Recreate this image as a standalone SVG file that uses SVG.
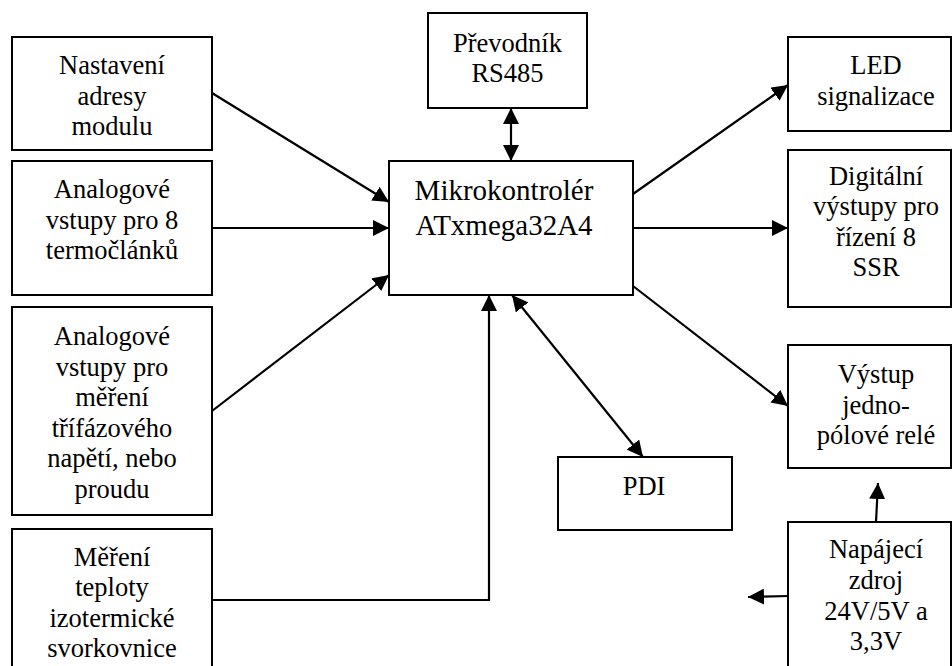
<svg xmlns="http://www.w3.org/2000/svg" width="952" height="666" viewBox="0 0 952 666">
<style>
rect{fill:#fff;stroke:#000;stroke-width:2}
text{font-family:'Liberation Serif','Times New Roman',serif;font-size:26.5px;fill:#000;text-anchor:middle}
.big{font-size:29px}
.c line,.c path{stroke:#000;stroke-width:2.2;fill:none}
</style>
<defs>
<marker id="ah" markerUnits="userSpaceOnUse" markerWidth="17" markerHeight="16" refX="16" refY="8" orient="auto-start-reverse" viewBox="0 0 17 16">
<path d="M0,0 L16,8 L0,16 z" fill="#000"/>
</marker>
</defs>
<rect x="0" y="0" width="952" height="666" style="stroke:none"/>
<g class="c" id="connectors">
<line x1="212" y1="93" x2="389" y2="202" marker-end="url(#ah)"/>
<line x1="212" y1="228" x2="389" y2="228" marker-end="url(#ah)"/>
<line x1="212" y1="411" x2="389" y2="275" marker-end="url(#ah)"/>
<path d="M212,600 H489 V295" marker-end="url(#ah)"/>
<line x1="511" y1="108" x2="511" y2="161" marker-start="url(#ah)" marker-end="url(#ah)"/>
<line x1="512" y1="295" x2="643" y2="457" marker-start="url(#ah)" marker-end="url(#ah)"/>
<line x1="633" y1="194" x2="788" y2="85" marker-end="url(#ah)"/>
<line x1="633" y1="228" x2="788" y2="228" marker-end="url(#ah)"/>
<line x1="633" y1="286" x2="788" y2="406" marker-end="url(#ah)"/>
<line x1="876" y1="522" x2="878" y2="483" marker-end="url(#ah)"/>
<line x1="789" y1="596" x2="748" y2="597" marker-end="url(#ah)"/>
</g>
<g id="n-nastaveni">
<rect x="12" y="37" width="200" height="113"/>
<text x="112" y="74">Nastavení</text>
<text x="112" y="104.5">adresy</text>
<text x="112" y="135">modulu</text>
</g>
<g id="n-analog8">
<rect x="12" y="161" width="200" height="134"/>
<text x="112" y="198">Analogové</text>
<text x="112" y="228.5">vstupy pro 8</text>
<text x="112" y="259">termočlánků</text>
</g>
<g id="n-analog3f">
<rect x="12" y="307" width="200" height="208"/>
<text x="112" y="345">Analogové</text>
<text x="112" y="375.5">vstupy pro</text>
<text x="112" y="406">měření</text>
<text x="112" y="436.5">třífázového</text>
<text x="112" y="467">napětí, nebo</text>
<text x="112" y="497.5">proudu</text>
</g>
<g id="n-mereni">
<rect x="12" y="529" width="200" height="160"/>
<text x="112" y="566">Měření</text>
<text x="112" y="596">teploty</text>
<text x="112" y="626.5">izotermické</text>
<text x="112" y="657">svorkovnice</text>
</g>
<g id="n-prevodnik">
<rect x="428" y="13" width="159" height="95"/>
<text x="507.5" y="52">Převodník</text>
<text x="507.5" y="82">RS485</text>
</g>
<g id="n-mcu">
<rect x="389" y="161" width="244" height="134"/>
<text class="big" x="504" y="200">Mikrokontrolér</text>
<text class="big" x="504" y="235">ATxmega32A4</text>
</g>
<g id="n-pdi">
<rect x="558" y="457" width="174" height="73"/>
<text x="644" y="495">PDI</text>
</g>
<g id="n-led">
<rect x="788" y="37" width="163" height="94"/>
<text x="876" y="74">LED</text>
<text x="876" y="104.5">signalizace</text>
</g>
<g id="n-digital">
<rect x="788" y="150" width="163" height="157"/>
<text x="876" y="184.5">Digitální</text>
<text x="876" y="215">výstupy pro</text>
<text x="876" y="245.5">řízení 8</text>
<text x="876" y="276">SSR</text>
</g>
<g id="n-vystup">
<rect x="788" y="345" width="163" height="123"/>
<text x="876" y="383">Výstup</text>
<text x="876" y="413.5">jedno-</text>
<text x="876" y="444">pólové relé</text>
</g>
<g id="n-napajeci">
<rect x="788" y="522" width="163" height="160"/>
<text x="876" y="558">Napájecí</text>
<text x="876" y="589">zdroj</text>
<text x="876" y="619.5">24V/5V a</text>
<text x="876" y="650">3,3V</text>
</g>
</svg>
